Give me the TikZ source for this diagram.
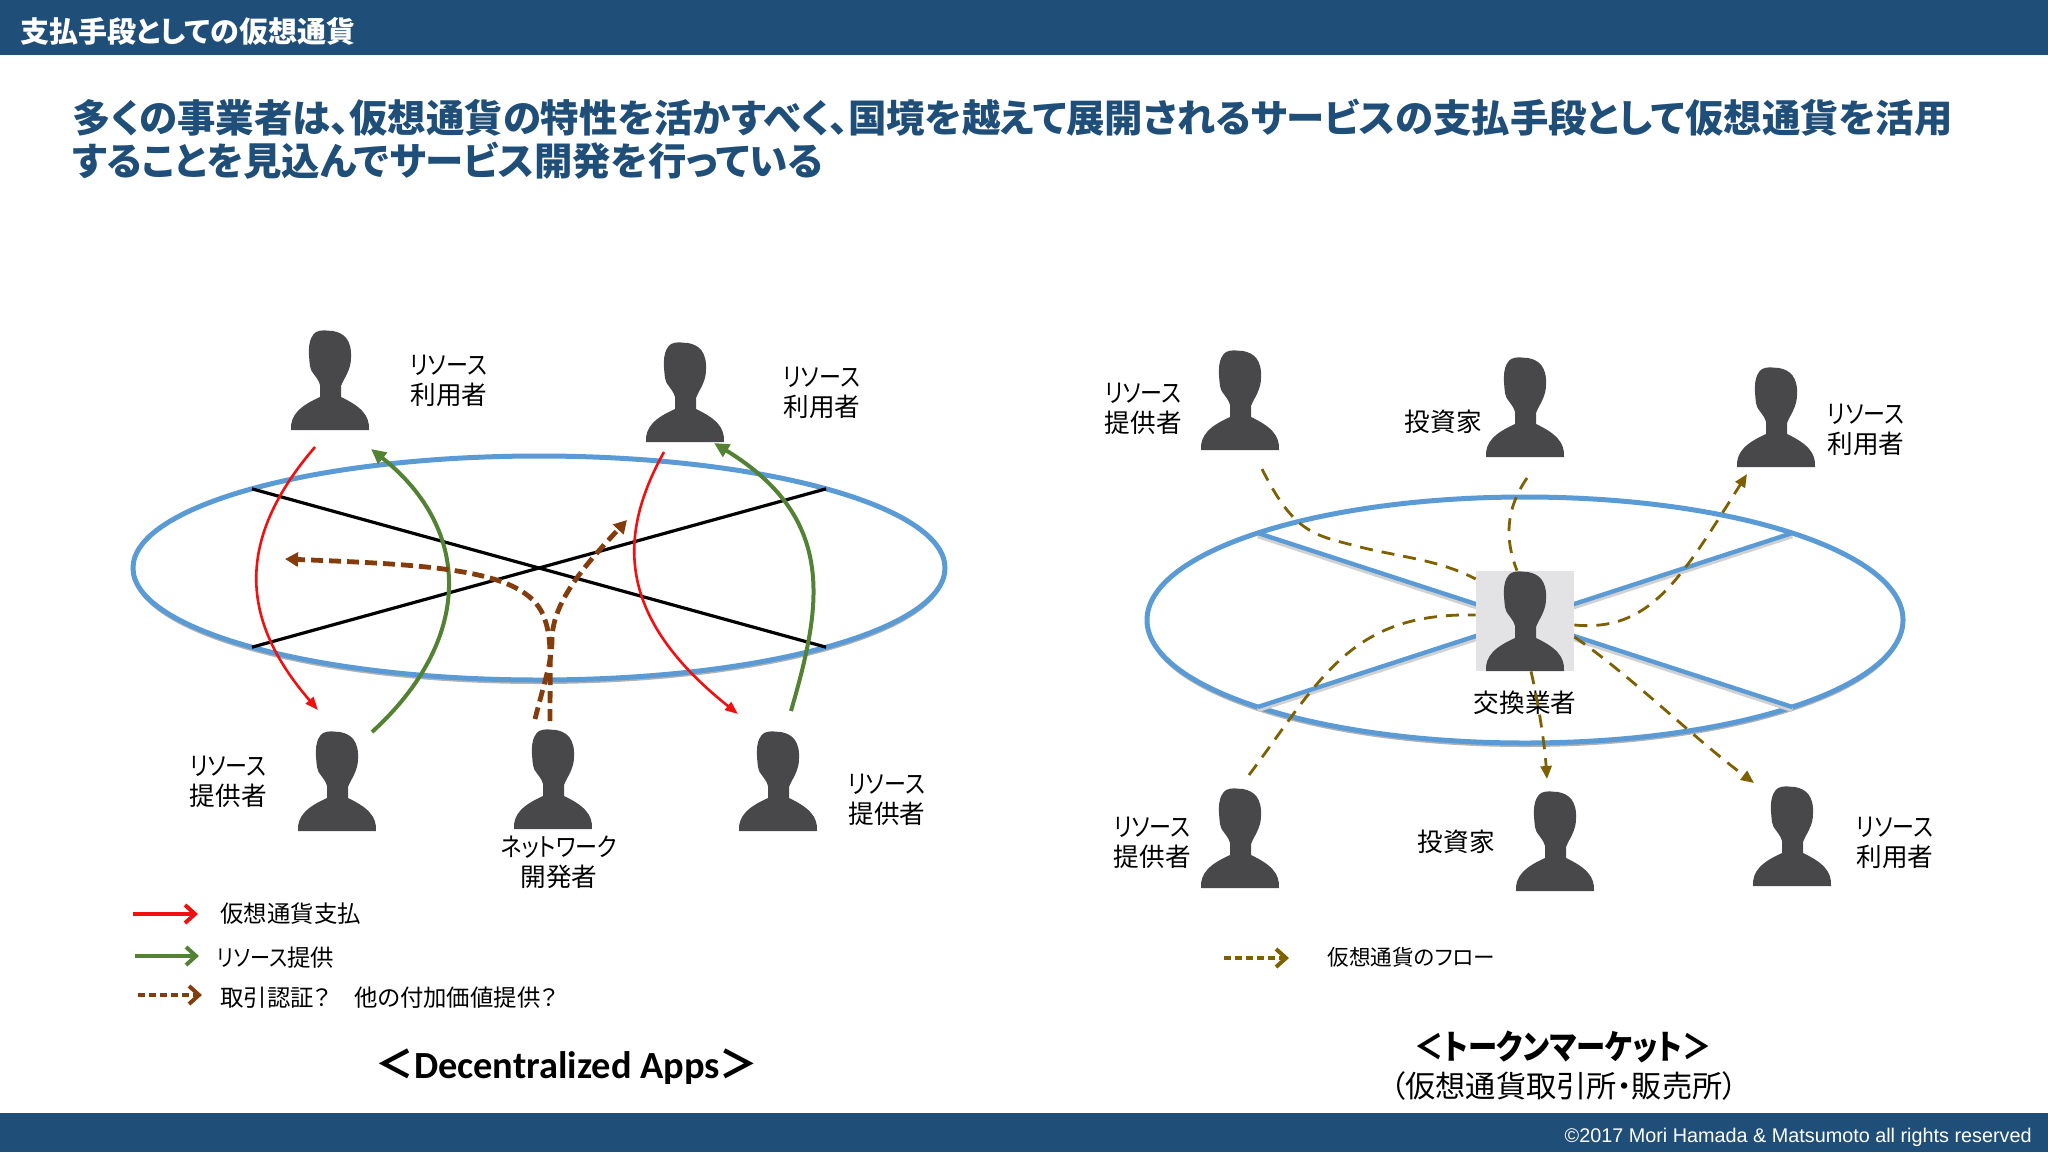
\documentclass[tikz,border=0pt]{standalone}
\usepackage{xcolor}
\usepackage{fontspec}
\setmainfont{Noto Sans CJK JP}[RawFeature=+palt]
\newfontfamily\latinfont{Carlito}
\newfontfamily\footfont{Liberation Sans}
\newfontfamily\narrowkana{Noto Sans CJK JP}[RawFeature=+palt,FakeStretch=0.86]
\usetikzlibrary{positioning,arrows.meta,shapes.geometric,shadows}
\definecolor{barblue}{HTML}{1F4E79}
\definecolor{ringblue}{HTML}{5B9BD5}
\definecolor{persongray}{HTML}{48484B}
\definecolor{deskgray}{HTML}{E3E3E5}
\definecolor{payred}{HTML}{F01010}
\definecolor{givegreen}{HTML}{548235}
\definecolor{checkbrown}{HTML}{843C0C}
\definecolor{flowgold}{HTML}{7F6000}
\newcommand{\rsrc}{{\narrowkana リソース}}
\tikzset{
  person/.style={rectangle, inner sep=0pt, outer sep=0pt, minimum width=40pt, minimum height=51pt,
    path picture={\fill[persongray]
      (0,49) -- (-39,49) .. controls (-40,34) and (-30,25) .. (-10,16) -- (-10,4)
      .. controls (-12,-4) and (-20,-9) .. (-20,-15) .. controls (-22,-31) and (-22,-43) .. (-14,-49)
      .. controls (-8,-52) and (-2,-50) .. (3,-50) .. controls (14,-48) and (22,-41) .. (21,-23)
      .. controls (21,-11) and (14,-3) .. (11,5) -- (11,16)
      .. controls (30,25) and (40,34) .. (39,49) -- cycle;}},
  rolelabel/.style={inner sep=0pt, align=left, font=\fontsize{12.8pt}{15pt}\selectfont},
  keytext/.style={inner sep=0pt, anchor=west, font=\fontsize{11.7pt}{14pt}\selectfont},
  ring/.style={ellipse, draw=ringblue, line width=2.5pt, fill=white, inner sep=0pt, outer sep=0pt,
    drop shadow={shadow xshift=0pt, shadow yshift=-2pt, opacity=.3, fill=black}},
  spoke/.style={draw=ringblue, line width=2.2pt,
    preaction={draw=black!18, line width=2.2pt, transform canvas={yshift=-1.5pt}}},
  paypath/.style={draw=payred, line width=1.3pt, -{Triangle[length=6.5pt,width=5pt]}},
  givepath/.style={draw=givegreen, line width=2pt, -{Triangle[length=7.5pt,width=7pt]}},
  checkpath/.style={draw=checkbrown, line width=2.4pt, dash pattern=on 6pt off 3pt, -{Triangle[length=6.5pt,width=7pt]}},
  flowpath/.style={draw=flowgold, line width=1.4pt, dash pattern=on 6.5pt off 4.5pt, -{Triangle[length=6.5pt,width=5.5pt]}},
  keyarrow/.style={line width=2pt, -{Straight Barb[length=5pt,width=9pt]}}
}
\begin{document}
\begin{tikzpicture}[x=0.5pt,y=-0.5pt]
  \useasboundingbox (0,0) rectangle (2048,1152);
  \fill[barblue] (0,0) rectangle (2048,55);
  \fill[barblue] (0,1113) rectangle (2048,1152);
  \node (pagetitle) [inner sep=0pt, anchor=west, text=white, font=\fontsize{14.5pt}{17pt}\selectfont\bfseries] at (20,31) {支払手段としての仮想通貨};
  \node (headline) [inner sep=0pt, anchor=north west, align=left, text=barblue, font=\fontsize{19.2pt}{21.5pt}\selectfont\bfseries] at (72,99) {多くの事業者は、仮想通貨の特性を活かすべく、国境を越えて展開されるサービスの支払手段として仮想通貨を活用\\することを見込んでサービス開発を行っている};
  \node (copyright) [inner sep=0pt, anchor=east, text=white, font=\fontsize{9.9pt}{12pt}\footfont] at (2032,1137) {©2017 Mori Hamada \& Matsumoto all rights reserved};

  % decentralized apps
  \node (dapp) [ring, minimum width=406pt, minimum height=112pt] at (539,568) {};
  \draw[line width=1.6pt] (dapp.north west) -- (dapp.south east);
  \draw[line width=1.6pt] (dapp.south west) -- (dapp.north east);

  \node (userA) [person] at (330,381) {};
  \node (userB) [person] at (685,393) {};
  \node (provC) [person] at (337,782) {};
  \node (devD) [person] at (553,780) {};
  \node (provE) [person] at (778,782) {};

  \node (labA) [rolelabel, right=20pt of userA] {\rsrc\\利用者};
  \node (labB) [rolelabel, right=29pt of userB] {\rsrc\\利用者};
  \node (labC) [rolelabel, left=15pt of provC] {\rsrc\\提供者};
  \node (labE) [rolelabel, right=15pt of provE, yshift=-9pt] {\rsrc\\提供者};
  \node (labD) [rolelabel, align=center, below=2pt of devD, xshift=3pt] {{\narrowkana ネットワーク}\\開発者};

  \draw[paypath] ([shift={(-15,15)}]userA.south) .. controls (235,540) and (240,620) .. ([shift={(-19,-21)}]provC.north);
  \draw[givepath] ([shift={(35,1)}]provC.north) .. controls (473,640) and (473,530) .. ([shift={(41,17)}]userA.south);
  \draw[paypath] ([shift={(-21,8)}]userB.south) .. controls (615,540) and (620,620) .. ([shift={(-40,-17)}]provE.north);
  \draw[givepath] ([shift={(13,-20)}]provE.north) .. controls (820,610) and (840,520) .. ([shift={(29,-1)}]userB.south);
  \draw[checkpath] ([shift={(-3,-8)}]devD.north) .. controls (550,660) and (552,640) .. (545,620)
    .. controls (530,570) and (440,565) .. (285,559);
  \draw[checkpath] ([shift={(-18,-10)}]devD.north) .. controls (545,680) and (552,660) .. (552,640)
    .. controls (552,600) and (590,560) .. (627,520);

  \coordinate (tailPay) at (133,914);
  \coordinate (tailGive) at (135,956);
  \coordinate (tailCheck) at (138,995);
  \node (keyPay) [keytext] at (220,914) {仮想通貨支払};
  \node (keyGive) [keytext] at (217,958) {{\narrowkana リソース}提供};
  \node (keyCheck) [keytext] at (220,998) {取引認証？　他の付加価値提供？};
  \draw[keyarrow, payred, shorten >=11pt] (tailPay) -- (keyPay.west);
  \draw[keyarrow, givegreen, shorten >=9pt] (tailGive) -- (tailGive -| keyGive.west);
  \draw[keyarrow, checkbrown, dash pattern=on 3.5pt off 2pt, shorten >=9pt] (tailCheck) -- (tailCheck -| keyCheck.west);
  \node (dappname) [inner sep=0pt, font=\fontsize{19.2pt}{22pt}\selectfont\bfseries] at (567,1067) {＜{\latinfont Decentralized Apps}＞};

  % token market
  \node (market) [ring, minimum width=378pt, minimum height=123pt] at (1525,620) {};
  \draw[spoke] (market.north west) -- (market.south east);
  \draw[spoke] (market.south west) -- (market.north east);
  \node (desk) [rectangle, fill=deskgray, inner sep=0pt, minimum width=49pt, minimum height=50pt] at (1525,621) {};

  \node (provF) [person] at (1240,401) {};
  \node (invG) [person] at (1525,408) {};
  \node (userH) [person] at (1776,418) {};
  \node (dealer) [person] at (1525,622) {};
  \node (provJ) [person] at (1240,839) {};
  \node (invK) [person] at (1555,842) {};
  \node (userL) [person] at (1792,837) {};

  \node (labF) [rolelabel, left=9pt of provF, yshift=-4pt] {\rsrc\\提供者};
  \node (labG) [rolelabel, left=1.5pt of invG, yshift=-7pt] {投資家};
  \node (labH) [rolelabel, right=5.5pt of userH, yshift=-6pt] {\rsrc\\利用者};
  \node (labI) [rolelabel, below=9pt of dealer] {交換業者};
  \node (labJ) [rolelabel, left=4.5pt of provJ, yshift=-2pt] {\rsrc\\提供者};
  \node (labK) [rolelabel, left=10pt of invK] {投資家};
  \node (labL) [rolelabel, right=12pt of userL, yshift=-3pt] {\rsrc\\利用者};

  \draw[flowpath, -] ([shift={(22,17)}]provF.south) .. controls (1295,535) and (1315,535) .. (1360,547)
    .. controls (1400,557) and (1440,560) .. ([yshift=21pt]desk.west);
  \draw[flowpath, -] ([shift={(2,19)}]invG.south) .. controls (1505,510) and (1505,540) .. ([xshift=-4pt]desk.north);
  \draw[flowpath] ([yshift=-2pt]desk.east) .. controls (1650,632) and (1680,580) .. ([shift={(-29,5)}]userH.south);
  \draw[flowpath, -] ([shift={(9,-13)}]provJ.north) .. controls (1320,680) and (1350,612) .. ([yshift=3pt]desk.west);
  \draw[flowpath] ([xshift=3pt]desk.south) .. controls (1540,710) and (1545,750) .. ([shift={(-8,-12)}]invK.north);
  \draw[flowpath] ([yshift=-8pt]desk.east) .. controls (1630,675) and (1690,735) .. ([shift={(-38,-3)}]userL.north);

  \coordinate (tailFlow) at (1224,958);
  \node (keyFlow) [keytext, font=\fontsize{10.8pt}{13pt}\selectfont] at (1327,957) {仮想通貨のフロー};
  \draw[keyarrow, flowgold, dash pattern=on 3.5pt off 2pt, shorten >=19pt] (tailFlow) -- (tailFlow -| keyFlow.west);
  \node (marketname) [inner sep=0pt, font=\fontsize{17pt}{20pt}\selectfont\narrowkana\bfseries] at (1563,1047) {＜トークンマーケット＞};
  \node (marketsub) [inner sep=0pt, font=\fontsize{15.1pt}{18pt}\selectfont] at (1564,1086) {（仮想通貨取引所・販売所）};
\end{tikzpicture}
\end{document}
